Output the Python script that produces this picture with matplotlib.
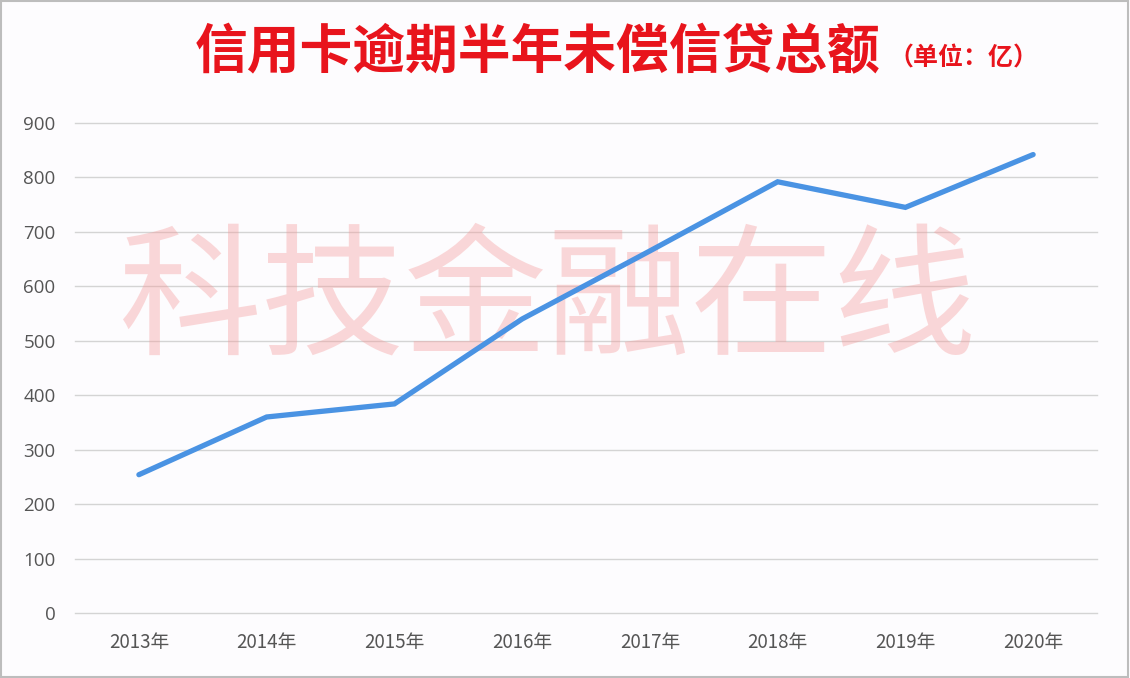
import matplotlib
matplotlib.use("Agg")
import matplotlib.pyplot as plt
from matplotlib.patches import Rectangle

plt.rcParams['font.family'] = ['Noto Sans CJK SC', 'DejaVu Sans']

years = ["2013年", "2014年", "2015年", "2016年", "2017年", "2018年", "2019年", "2020年"]
values = [254, 360, 384, 540, 665, 792, 745, 842]
y_ticks = [0, 100, 200, 300, 400, 500, 600, 700, 800, 900]
title_main = "信用卡逾期半年未偿信贷总额"
title_unit = "（单位：亿）"
watermark = "科技金融在线"

fig = plt.figure(figsize=(11.3, 6.78), dpi=100)
fig.patch.set_facecolor("#fdfcfe")
ax = fig.add_axes([0.0664, 0.0959, 0.9044, 0.7227])
ax.set_facecolor("none")

x = list(range(len(years)))
ax.plot(x, values, color="#4a93e3", linewidth=3.8, solid_capstyle="round",
        solid_joinstyle="miter", zorder=3)

ax.set_xlim(-0.5, len(years) - 0.5)
ax.set_ylim(0, 900)
ax.set_yticks(y_ticks)
ax.set_yticklabels([str(v) for v in y_ticks])
ax.set_xticks(x)
ax.set_xticklabels(years)
ax.grid(axis="y", color="#d4d4d4", linewidth=1.0, zorder=0)
for gl in ax.get_ygridlines():
    gl.set_clip_on(False)
ax.set_axisbelow(True)
for s in ax.spines.values():
    s.set_visible(False)
ax.tick_params(axis="both", length=0, labelsize=13.5, colors="#555555")
ax.tick_params(axis="y", pad=14)
ax.tick_params(axis="x", pad=14)
for lbl in ax.get_yticklabels():
    lbl.set_fontfamily(["Open Sans", "DejaVu Sans"])

# watermark
ax.text(0.462, 0.632, watermark, transform=ax.transAxes, ha="center", va="center",
        fontsize=103, color="#f59a9a", alpha=0.38, zorder=2)

# title
fig.text(0.172, 0.922, title_main, ha="left", va="center", fontsize=38,
         fontweight="bold", color="#e8141c")
fig.text(0.786, 0.914, title_unit, ha="left", va="center", fontsize=18,
         fontweight="bold", color="#e8141c")

# border
fig.patches.append(Rectangle((0.001, 0.002), 0.997, 0.996, transform=fig.transFigure,
                             fill=False, edgecolor="#bdbdbd", linewidth=1.5))

fig.savefig("out.png", dpi=100, facecolor=fig.get_facecolor())
